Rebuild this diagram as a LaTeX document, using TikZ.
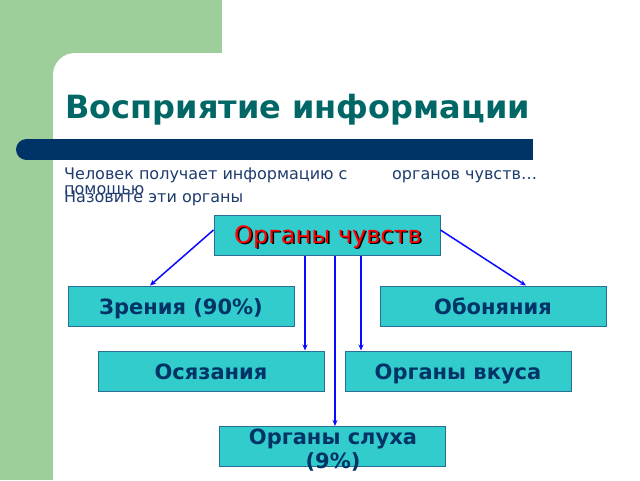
\documentclass[tikz,border=0pt]{standalone}
\usepackage{fontspec}
\setmainfont{DejaVu Sans}
\usetikzlibrary{arrows.meta,calc}
\definecolor{bggreen}{RGB}{158,206,154}
\definecolor{titleteal}{RGB}{0,102,102}
\definecolor{navybar}{RGB}{0,51,102}
\definecolor{boxfill}{RGB}{51,204,204}
\definecolor{boxline}{RGB}{40,110,150}
\definecolor{bodytext}{RGB}{30,60,110}
\definecolor{boxtext}{RGB}{0,51,102}
\definecolor{arrowblue}{RGB}{10,10,255}
\tikzset{
  organbox/.style={draw=boxline, line width=1pt, fill=boxfill, minimum width=226pt, minimum height=40pt, inner sep=0pt, text height=17.5pt, text depth=1.5pt, font=\fontsize{21}{24}\selectfont\bfseries, text=boxtext},
  bodyline/.style={anchor=base west, inner sep=0pt, font=\fontsize{16}{18}\selectfont, text=bodytext},
  conn/.style={draw=arrowblue, line width=1.5pt, -{Stealth[length=6pt,width=5pt]}}
}
\begin{document}
\begin{tikzpicture}[x=1pt,y=-1pt]
\useasboundingbox (0,0) rectangle (640,480);
% background
\fill[bggreen] (0,0) rectangle (222,480);
\fill[white] (640,480) -- (53,480) [rounded corners=22pt] -- (53,53) [sharp corners] -- (640,53) -- cycle;
% title
\node[anchor=base west, inner sep=0pt, font=\fontsize{32}{36}\selectfont\bfseries, text=titleteal] (title) at (65,118) {Восприятие информации};
% navy bar
\fill[navybar] (26.5,139) rectangle (533,160);
\fill[navybar] (26.5,149.5) circle[radius=10.5];
% body text
\node[bodyline] (t1) at (64,179) {Человек получает информацию с};
\node[bodyline] (t2) at (392,179) {органов чувств…};
\node[bodyline] (t3) at (64,194) {помощью};
\node[bodyline] (t4) at (64,202) {Назовите эти органы};
% boxes
\node[organbox] (org) at (327,235) {};
\node[text=black, font=\fontsize{24}{26}\selectfont, inner sep=0pt] (orgsh) at (329.5,238.5) {Органы чувств};
\node[text=red, font=\fontsize{24}{26}\selectfont, inner sep=0pt] (orgtx) at (328,237) {Органы чувств};
\node[organbox] (zr) at (181,306) {Зрения (90\%)};
\node[organbox] (ob) at (493,306) {Обоняния};
\node[organbox] (os) at (211,371) {Осязания};
\node[organbox] (vk) at (458,371) {Органы вкуса};
\node[organbox] (sl) at (332,446.5) {};
\node[inner sep=0pt, align=center, font=\fontsize{21}{24}\selectfont\bfseries, text=boxtext] (sltx) at (333,450) {Органы слуха\\(9\%)};
% connectors
\draw[conn] ($(org.west)+(0,-5)$) -- ($(zr.north)+(-31,0)$);
\draw[conn] ($(org.east)+(0,-5)$) -- ($(ob.north)+(33,0)$);
\draw[conn] ($(org.south)+(-22,0)$) -- ($(os.north)+(94,0)$);
\draw[conn] ($(org.south)+(34,0)$) -- ($(vk.north)+(-97,0)$);
\draw[conn] ($(org.south)+(8,0)$) -- ($(sl.north)+(3,0)$);
\end{tikzpicture}
\end{document}
